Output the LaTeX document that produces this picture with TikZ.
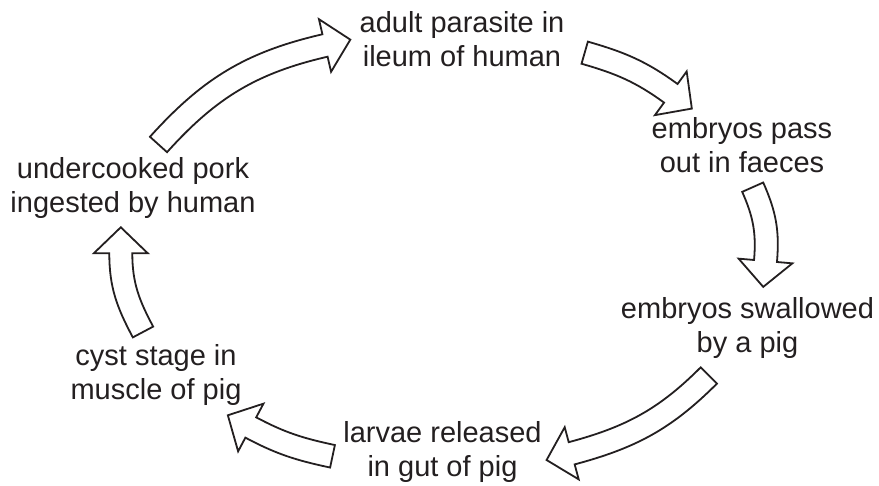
\documentclass[tikz,border=0pt]{standalone}
\usepackage{fontspec}
\setmainfont{Liberation Sans}
\usetikzlibrary{calc}
\definecolor{ink}{RGB}{35,31,32}
\def\cahw{11.5}
\def\cahh{27}
\def\cahl{26}
\newcommand{\cyclearrow}[4]{%
  \pgfmathsetmacro{\caSl}{#2+90}%
  \pgfmathsetmacro{\caSr}{#2-90}%
  \pgfmathsetmacro{\caEl}{#4+90}%
  \pgfmathsetmacro{\caEr}{#4-90}%
  \pgfmathsetmacro{\caEb}{#4+180}%
  \draw[blockarrow] ($(#1)+(\caSl:\cahw)$) to[out=#2,in=\caEb] ($(#3)+(\caEl:\cahw)$)
    -- ($(#3)+(\caEl:\cahh)$) -- ($(#3)+(#4:\cahl)$) -- ($(#3)+(\caEr:\cahh)$)
    -- ($(#3)+(\caEr:\cahw)$) to[out=\caEb,in=#2] ($(#1)+(\caSr:\cahw)$) -- cycle;
}
\tikzset{
  stage/.style={anchor=north, inner sep=0pt, align=center, text=ink,
    font=\fontsize{29}{34}\selectfont},
  blockarrow/.style={draw=ink, fill=white, line width=1.8pt, line join=miter}
}
\begin{document}
\begin{tikzpicture}[x=1pt,y=1pt]
\useasboundingbox (0,0) rectangle (879,486);
% stages
\node[stage] (adult) at (462,474.8) {adult parasite in\\ileum of human};
\node[stage] (faeces) at (742,368.8) {embryos pass\\out in faeces};
\node[stage] (swallow) at (747.5,188.8) {embryos swallowed\\by a pig};
\node[stage] (larvae) at (442.5,64.8) {larvae released\\in gut of pig};
\node[stage] (cyst) at (156,141.3) {cyst stage in\\muscle of pig};
\node[stage] (pork) at (133,328.3) {undercooked pork\\ingested by human};
% arrow ends
\coordinate (aS) at (158.5,341.5); \coordinate (aE) at (325,440.5);
\coordinate (bS) at (584.7,433.3); \coordinate (bE) at (670.8,392.7);
\coordinate (cS) at (752.7,298.8); \coordinate (cE) at (765.5,225);
\coordinate (dS) at (708.8,110.5); \coordinate (dE) at (571.7,32.7);
\coordinate (eS) at (332.5,29.7);  \coordinate (eE) at (250.8,58.5);
\coordinate (fS) at (143,154);     \coordinate (fE) at (120.8,232.7);
% arrows
\cyclearrow{aS}{48}{aE}{13}
\cyclearrow{bS}{-16}{bE}{-36}
\cyclearrow{cS}{-66}{cE}{-95}
\cyclearrow{dS}{225}{dE}{195}
\cyclearrow{eS}{168}{eE}{152}
\cyclearrow{fS}{118}{fE}{90}
\end{tikzpicture}
\end{document}
